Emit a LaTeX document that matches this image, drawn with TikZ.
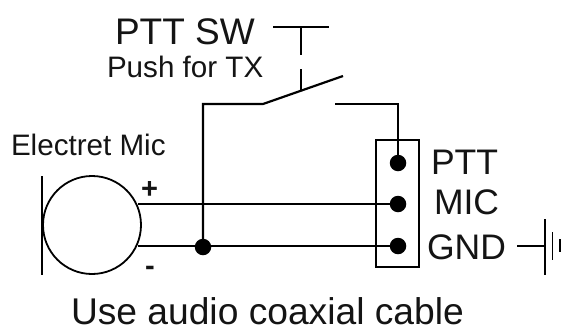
\documentclass[tikz,border=0pt]{standalone}
\usepackage{fontspec}
\setmainfont{Liberation Sans}
\tikzset{
  wire/.style={line width=1.8pt,black,line join=miter},
  heavy/.style={line width=2.2pt,black},
  dotnode/.style={circle,fill=black,draw=none,minimum size=16.5pt,inner sep=0pt,outer sep=0pt},
  lbl/.style={anchor=base west,inner sep=0pt,outer sep=0pt,text=black!92},
  big/.style={lbl,font=\fontsize{37}{37}\selectfont},
  small/.style={lbl,font=\fontsize{29.6}{29.6}\selectfont},
  mid/.style={lbl,font=\fontsize{35.5}{35.5}\selectfont}
}
\begin{document}
\begin{tikzpicture}[x=1pt,y=-1pt]
\useasboundingbox[fill=white] (0,0) rectangle (561,327);
% texts
\node[big] (pttsw) at (115,44) {PTT SW};
\node[small] (push) at (107,77) {Push for TX};
\node[small] (emic) at (11,155) {Electret Mic};
\node[mid] (ptt) at (431,174) {PTT};
\node[mid] (mic) at (434,214) {MIC};
\node[mid] (gnd) at (427,259) {GND};
\node[lbl,font=\fontsize{37.2}{37.2}\selectfont] (use) at (71,324) {Use audio coaxial cable};
\node[lbl,font=\bfseries\fontsize{29}{29}\selectfont] (plus) at (141,198) {+};
\node[lbl,font=\bfseries\fontsize{29}{29}\selectfont] (minus) at (145,275) {-};
% coordinates
\coordinate (plL) at (273,27); \coordinate (plR) at (329,27);
\coordinate (plT) at (301,27); \coordinate (plB) at (301,55);
\coordinate (stT) at (301,69); \coordinate (stB) at (301,90);
\coordinate (armL) at (263,104); \coordinate (armR) at (343,76);
\coordinate (cntL) at (335,104); \coordinate (cntR) at (398,104);
\coordinate (micP) at (138,204); \coordinate (micN) at (138,246);
\coordinate (gE) at (517,246); \coordinate (g1) at (545,246);
% microphone
\node[circle,draw=black,line width=1.8pt,minimum size=98pt,inner sep=0pt] (mike) at (92,225) {};
\draw[wire] (42,176) -- (42,275);
% connector box
\draw[line width=1.8pt] (376,140) rectangle (419,267);
\node[dotnode] (d1) at (398,163) {};
\node[dotnode] (d2) at (398,204) {};
\node[dotnode] (d3) at (398,246) {};
\node[dotnode] (j) at (203,247) {};
% wiring
\draw[wire] (micP) -- (d2);
\draw[wire] (micN) -- (d3);
\draw[heavy] (j.center) -- (203,104) -- (armL) -- (armR);
\draw[heavy] (cntL) -- (cntR) -- (d1.center);
% push button
\draw[heavy] (plL) -- (plR);
\draw[heavy] (plT) -- (plB);
\draw[heavy] (stT) -- (stB);
% ground
\draw[wire] (gE) -- (g1);
\draw[heavy] (545,219) -- (545,275);
\draw[wire] (552.5,232) -- (552.5,260);
\draw[wire] (560,239) -- (560,252);
\end{tikzpicture}
\end{document}
